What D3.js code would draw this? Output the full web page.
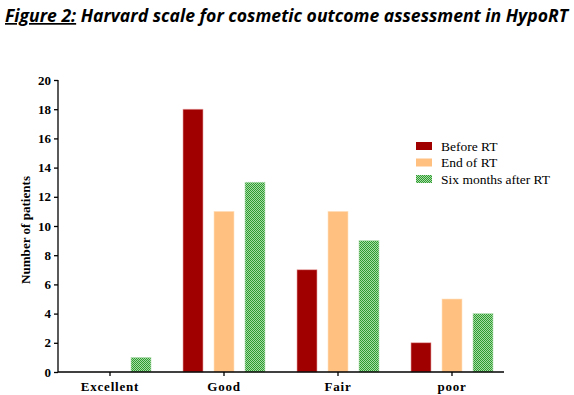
<!DOCTYPE html>
<html>
<head>
<meta charset="utf-8">
<script src="https://cdn.jsdelivr.net/npm/d3@7"></script>
<style>
  body { margin: 0; background: #fff; }
  svg { display: block; }
  .axis path, .axis line { stroke: #000; stroke-width: 1.3; }
  .axis text { font-family: "Liberation Serif", serif; font-weight: bold; font-size: 13px; fill: #000; }
</style>
</head>
<body>
<svg id="chart" width="574" height="395"></svg>
<script>
const categories = ['Excellent', 'Good', 'Fair', 'poor'];
const seriesNames = ['Before RT', 'End of RT', 'Six months after RT'];
const beforeRT = [0, 18, 7, 2];
const endOfRT = [0, 11, 11, 5];
const sixMonths = [1, 13, 9, 4];
const yTicks = [0, 2, 4, 6, 8, 10, 12, 14, 16, 18, 20];

const seriesValues = [beforeRT, endOfRT, sixMonths];
const fills = ['#a00000', '#ffc080', 'url(#checker)'];
const edges = ['#e8a0a0', '#ffe0c0', '#b8e0b8'];

const svg = d3.select('#chart');

// checkered green fill
const pat = svg.append('defs').append('pattern')
    .attr('id', 'checker')
    .attr('width', 2).attr('height', 2)
    .attr('patternUnits', 'userSpaceOnUse');
pat.append('rect').attr('width', 2).attr('height', 2).attr('fill', '#a6dca6');
pat.append('rect').attr('width', 1).attr('height', 1).attr('fill', '#2f9a2f');
pat.append('rect').attr('x', 1).attr('y', 1).attr('width', 1).attr('height', 1).attr('fill', '#2f9a2f');

// title
const title = svg.append('text')
    .attr('x', 5).attr('y', 22)
    .attr('textLength', 563)
    .attr('lengthAdjust', 'spacingAndGlyphs')
    .style('font-family', '"Open Sans", sans-serif')
    .style('font-weight', 'bold')
    .style('font-style', 'italic')
    .style('font-size', '17px');
title.append('tspan').attr('text-decoration', 'underline').text('Figure 2:');
title.append('tspan').text(' Harvard scale for cosmetic outcome assessment in HypoRT');

const x0 = d3.scaleBand().domain(categories).range([53, 509]).padding(0);
const x1 = d3.scalePoint().domain(seriesNames).range([-31, 31]);
const y = d3.scaleLinear().domain([0, 20]).range([372, 80]);
const barW = 20;

// bars
const rows = [];
seriesNames.forEach((s, i) => {
    categories.forEach((c, j) => {
        rows.push({ series: s, idx: i, cat: c, value: seriesValues[i][j] });
    });
});

svg.append('g')
    .selectAll('rect')
    .data(rows.filter(d => d.value > 0))
    .join('rect')
    .attr('x', d => x0(d.cat) + x0.bandwidth() / 2 + x1(d.series) - barW / 2)
    .attr('y', d => y(d.value))
    .attr('width', barW)
    .attr('height', d => y(0) - y(d.value))
    .attr('fill', d => fills[d.idx])
    .attr('stroke', d => edges[d.idx])
    .attr('stroke-width', 0.6);

// y axis
const yAxis = svg.append('g')
    .attr('class', 'axis')
    .attr('transform', 'translate(58,0)')
    .call(d3.axisLeft(y).tickValues(yTicks).tickSize(4).tickPadding(3).tickSizeOuter(0));
yAxis.select('.domain').attr('d', 'M0,80V372');

// x axis
const xAxis = svg.append('g')
    .attr('class', 'axis')
    .attr('transform', 'translate(0,372)')
    .call(d3.axisBottom(x0).tickSize(4).tickPadding(3).tickSizeOuter(0));
xAxis.select('.domain').attr('d', 'M58,0H504');
xAxis.selectAll('text').style('letter-spacing', '0.8px').attr('dy', '0.9em');

// y label
svg.append('text')
    .attr('transform', 'translate(30,230) rotate(-90)')
    .attr('text-anchor', 'middle')
    .attr('textLength', 108)
    .attr('lengthAdjust', 'spacingAndGlyphs')
    .style('font-family', '"Liberation Serif", serif')
    .style('font-weight', 'bold')
    .style('font-size', '13px')
    .text('Number of patients');

// legend
const legend = svg.append('g')
    .selectAll('g')
    .data(seriesNames)
    .join('g')
    .attr('transform', (d, i) => 'translate(416,' + (142 + i * 16.5) + ')');

legend.append('rect')
    .attr('width', 16).attr('height', 8)
    .attr('fill', (d, i) => fills[i]);

legend.append('text')
    .attr('x', 25).attr('y', 8.5)
    .style('font-family', '"Liberation Serif", serif')
    .style('font-size', '13.5px')
    .text(d => d);
</script>
</body>
</html>
